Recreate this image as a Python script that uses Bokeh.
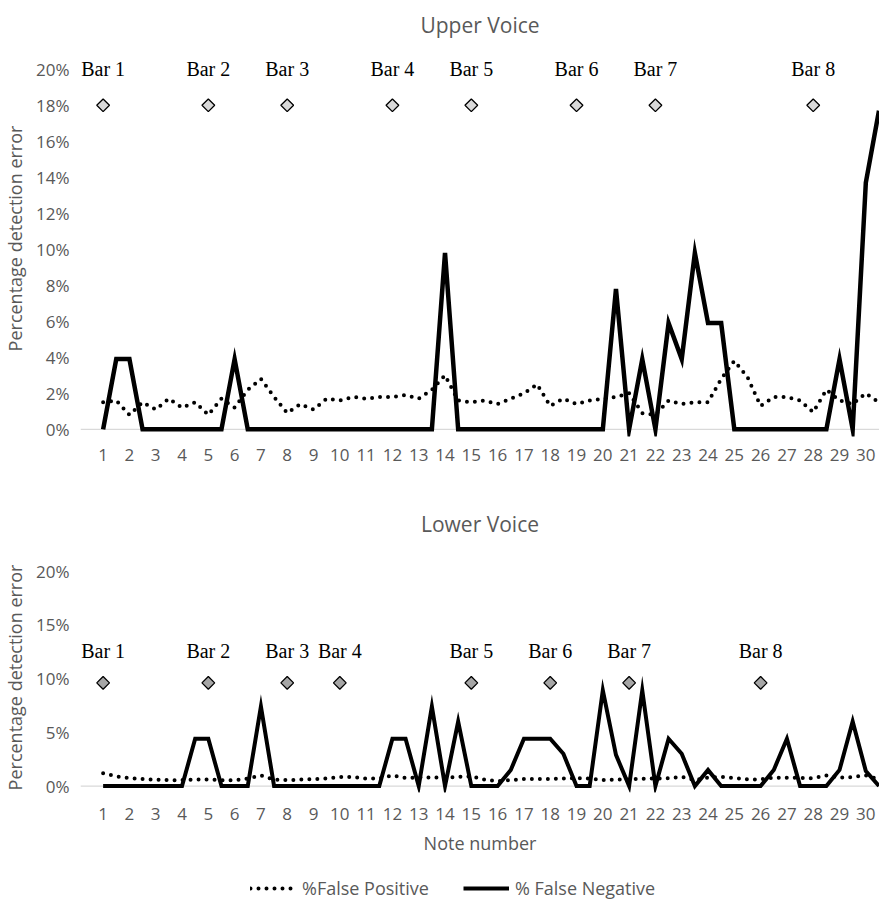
from bokeh.plotting import figure
from bokeh.models import Range1d, FixedTicker, PrintfTickFormatter, Span, Legend, LegendItem
from bokeh.layouts import column
from bokeh.core.properties import value
from bokeh.embed import file_html
from bokeh.resources import INLINE

# ---------------- data ----------------
note_pos = [1, 1.5, 2, 2.5, 3, 3.5, 4, 4.5, 5, 5.5,
            6, 6.5, 7, 7.5, 8, 8.5, 9, 9.5, 10, 10.5,
            11, 11.5, 12, 12.5, 13, 13.5, 14, 14.5, 15, 15.5,
            16, 16.5, 17, 17.5, 18, 18.5, 19, 19.5, 20, 20.5,
            21, 21.5, 22, 22.5, 23, 23.5, 24, 24.5, 25, 25.5,
            26, 26.5, 27, 27.5, 28, 28.5, 29, 29.5, 30, 30.5]
note_ticks = [1, 2, 3, 4, 5, 6, 7, 8, 9, 10, 11, 12, 13, 14, 15,
              16, 17, 18, 19, 20, 21, 22, 23, 24, 25, 26, 27, 28, 29, 30]

upper_false_pos = [1.5, 1.6, 0.8, 1.5, 1.1, 1.7, 1.2, 1.5, 0.8, 1.7,
                   1.2, 2.2, 2.8, 1.8, 0.9, 1.4, 1.1, 1.7, 1.6, 1.8,
                   1.7, 1.8, 1.8, 1.9, 1.7, 2.2, 3.0, 1.6, 1.5, 1.6,
                   1.4, 1.7, 2.0, 2.5, 1.3, 1.7, 1.4, 1.6, 1.7, 1.8,
                   2.0, 0.9, 0.8, 1.6, 1.4, 1.5, 1.5, 2.8, 3.8, 2.9,
                   1.3, 1.8, 1.8, 1.6, 0.95, 2.2, 1.6, 1.4, 2.0, 1.5]
upper_false_neg = [0, 3.9, 3.9, 0, 0, 0, 0, 0, 0, 0,
                   3.9, 0, 0, 0, 0, 0, 0, 0, 0, 0,
                   0, 0, 0, 0, 0, 0, 9.8, 0, 0, 0,
                   0, 0, 0, 0, 0, 0, 0, 0, 0, 7.8,
                   0, 3.9, 0, 5.9, 3.9, 9.8, 5.9, 5.9, 0, 0,
                   0, 0, 0, 0, 0, 0, 3.9, 0, 13.7, 17.7]

lower_false_pos = [1.2, 0.9, 0.75, 0.65, 0.6, 0.55, 0.55, 0.6, 0.6, 0.55,
                   0.55, 0.7, 1.0, 0.6, 0.55, 0.6, 0.65, 0.7, 0.85, 0.85,
                   0.7, 0.7, 1.0, 0.75, 0.8, 0.8, 0.8, 0.85, 0.9, 0.6,
                   0.45, 0.55, 0.65, 0.65, 0.65, 0.7, 0.75, 0.7, 0.55, 0.6,
                   0.62, 0.68, 0.7, 0.72, 0.85, 0.55, 0.78, 0.85, 0.75, 0.62,
                   0.62, 0.78, 0.78, 0.75, 0.72, 0.99, 0.78, 0.84, 0.99, 0.62]
lower_false_neg = [0, 0, 0, 0, 0, 0, 0, 4.4, 4.4, 0,
                   0, 0, 7.4, 0, 0, 0, 0, 0, 0, 0,
                   0, 0, 4.4, 4.4, 0, 7.4, 0, 6.0, 0, 0,
                   0, 1.5, 4.4, 4.4, 4.4, 3.0, 0, 0, 8.9, 2.9,
                   0, 8.9, 0, 4.4, 3.0, 0, 1.5, 0, 0, 0,
                   0, 1.5, 4.4, 0, 0, 0, 1.5, 6.0, 1.4, 0]

bar_labels = ["Bar 1", "Bar 2", "Bar 3", "Bar 4", "Bar 5", "Bar 6", "Bar 7", "Bar 8"]
upper_bar_pos = [1, 5, 8, 12, 15, 19, 22, 28]
upper_bar_marker_y = [18, 18, 18, 18, 18, 18, 18, 18]
upper_bar_text_y = [20, 20, 20, 20, 20, 20, 20, 20]
lower_bar_pos = [1, 5, 8, 10, 15, 18, 21, 26]
lower_bar_marker_y = [9.6, 9.6, 9.6, 9.6, 9.6, 9.6, 9.6, 9.6]
lower_bar_text_y = [12.6, 12.6, 12.6, 12.6, 12.6, 12.6, 12.6, 12.6]

upper_y_ticks = [0, 2, 4, 6, 8, 10, 12, 14, 16, 18, 20]
lower_y_ticks = [0, 5, 10, 15, 20]

series_names = ["%False Positive", "% False Negative"]

# ---------------- style ----------------
GRAY = "#595959"
FONT = "Open Sans"
SERIF = "Liberation Serif"
FP_STYLE = dict(line_color="black", line_width=4, line_dash="0 8",
                line_cap="round", line_join="round")


def make_panel(title, height, y_rng, y_ticks, min_top, min_bottom, title_standoff,
               x_label_standoff, fp, fn, bar_pos, bar_marker_y, bar_text_y, marker_fill,
               fn_width, x_title=None):
    p = figure(width=879, height=height, output_backend="svg", toolbar_location=None,
               x_range=Range1d(0.14, 30.52), y_range=Range1d(*y_rng),
               min_border_left=70, min_border_right=0,
               min_border_top=min_top, min_border_bottom=min_bottom,
               title=title)
    p.outline_line_color = None
    p.grid.visible = False

    p.title.align = "center"
    p.title.offset = -30
    p.title.standoff = title_standoff
    p.title.text_font = FONT
    p.title.text_font_size = "21px"
    p.title.text_font_style = "normal"
    p.title.text_color = GRAY

    xa = p.xaxis[0]
    xa.ticker = FixedTicker(ticks=note_ticks)
    xa.axis_line_color = None
    xa.major_tick_line_color = None
    xa.minor_tick_line_color = None
    xa.major_label_text_font = FONT
    xa.major_label_text_font_size = "17px"
    xa.major_label_text_color = GRAY
    xa.major_label_standoff = x_label_standoff
    if x_title:
        xa.axis_label = x_title
        xa.axis_label_text_font = FONT
        xa.axis_label_text_font_size = "18px"
        xa.axis_label_text_font_style = "normal"
        xa.axis_label_text_color = GRAY
        xa.axis_label_standoff = 8

    ya = p.yaxis[0]
    ya.ticker = FixedTicker(ticks=y_ticks)
    ya.formatter = PrintfTickFormatter(format="%d%%")
    ya.axis_line_color = None
    ya.major_tick_line_color = None
    ya.minor_tick_line_color = None
    ya.major_label_text_font = FONT
    ya.major_label_text_font_size = "17px"
    ya.major_label_text_color = GRAY
    ya.major_label_standoff = 5
    ya.axis_label = "Percentage detection error"
    ya.axis_label_text_font = FONT
    ya.axis_label_text_font_size = "18px"
    ya.axis_label_text_font_style = "normal"
    ya.axis_label_text_color = GRAY
    ya.axis_label_standoff = 6

    p.add_layout(Span(location=0, dimension="width", line_color="#d9d9d9",
                      line_width=1.3, level="underlay"))

    p.line(note_pos, fp, **FP_STYLE)
    p.line(note_pos, fn, line_color="black", line_width=fn_width, line_join="miter")

    p.scatter(bar_pos, bar_marker_y, marker="square", angle=0.785398, size=9,
              fill_color=marker_fill, line_color="black", line_width=1.3)
    p.text(bar_pos, bar_text_y, text=bar_labels, text_font=value(SERIF),
           text_font_size="20px", text_align="center", text_baseline="middle",
           text_color="black")
    return p


p1 = make_panel("Upper Voice", 477, (-0.4, 21.6), upper_y_ticks, 40, 41, 4, 6,
                upper_false_pos, upper_false_neg, upper_bar_pos,
                upper_bar_marker_y, upper_bar_text_y, "#d9d9d9", 4.5)

p2 = make_panel("Lower Voice", 380, (-0.6, 20.8), lower_y_ticks, 85, 65, 50, 9,
                lower_false_pos, lower_false_neg, lower_bar_pos,
                lower_bar_marker_y, lower_bar_text_y, "#a6a6a6", 4,
                x_title="Note number")

# legend strip (series lines kept outside its visible y range; only the legend shows)
p3 = figure(width=879, height=42, output_backend="svg", toolbar_location=None,
            x_range=Range1d(0, 879), y_range=Range1d(100, 142), min_border=0,
            x_axis_location=None, y_axis_location=None)
p3.grid.visible = False
p3.outline_line_color = None
r_fp = p3.line(note_pos, lower_false_pos, **FP_STYLE)
r_fn = p3.line(note_pos, lower_false_neg, line_color="black", line_width=4)
legend = Legend(items=[LegendItem(label=series_names[0], renderers=[r_fp]),
                       LegendItem(label=series_names[1], renderers=[r_fn])],
                orientation="horizontal", location=(170, -1),
                border_line_color=None, background_fill_alpha=0,
                label_text_font=FONT, label_text_font_size="18px",
                label_text_color=GRAY, glyph_width=46, glyph_height=20,
                spacing=34, label_standoff=6, padding=0, margin=0)
p3.add_layout(legend)

layout = column(p1, p2, p3, spacing=0)
open("out.html", "w").write(file_html(layout, INLINE))
